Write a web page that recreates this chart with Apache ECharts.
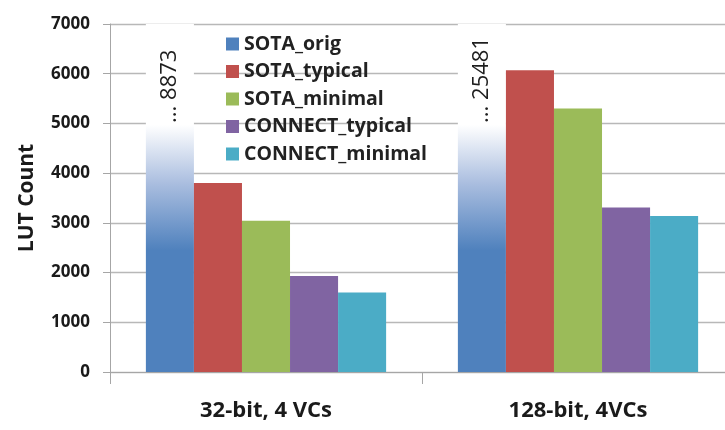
<!DOCTYPE html>
<html>
<head>
<meta charset="utf-8">
<script src="https://cdn.jsdelivr.net/npm/echarts@6/dist/echarts.min.js"></script>
<style>
  html, body { margin: 0; padding: 0; background: #fff; }
  #chart { width: 725px; height: 430px; }
</style>
</head>
<body>
<div id="chart"></div>
<script>
// LUT usage per router configuration
const categories = ['32-bit, 4 VCs', '128-bit, 4VCs'];
const seriesNames = ['SOTA_orig', 'SOTA_typical', 'SOTA_minimal', 'CONNECT_typical', 'CONNECT_minimal'];
const sotaOrig = [8873, 25481];
const sotaTypical = [3800, 6070];
const sotaMinimal = [3040, 5300];
const connectTypical = [1930, 3310];
const connectMinimal = [1600, 3140];
const yTicks = [0, 1000, 2000, 3000, 4000, 5000, 6000, 7000];

const colors = ['#4F81BD', '#C0504D', '#9BBB59', '#8064A2', '#4BACC6'];
const font = '"Open Sans", "Noto Sans", sans-serif';

// Off-scale bars fade out towards the top of the axis
const fadeFill = new echarts.graphic.LinearGradient(0, 0, 0, 1, [
  { offset: 0, color: '#ffffff' },
  { offset: 0.29, color: '#ffffff' },
  { offset: 0.46, color: '#a9bddf' },
  { offset: 0.65, color: '#4F81BD' },
  { offset: 1, color: '#4F81BD' }
]);

const chart = echarts.init(document.getElementById('chart'), null, { renderer: 'canvas' });

const valueSets = [sotaOrig, sotaTypical, sotaMinimal, connectTypical, connectMinimal];

const series = valueSets.map((vals, i) => {
  const s = {
    name: seriesNames[i],
    type: 'bar',
    barGap: 0,
    barCategoryGap: '23%',
    clip: true,
    itemStyle: { color: colors[i] },
    data: vals
  };
  if (i === 0) {
    s.itemStyle = { color: fadeFill };
    s.data = vals.map(v => ({
      value: v,
      label: {
        show: true,
        formatter: '... ' + v,
        position: ['50%', 99],
        rotate: 90,
        align: 'left',
        verticalAlign: 'middle',
        fontFamily: font,
        fontSize: 22,
        color: '#1e1e1e'
      }
    }));
  }
  return s;
});

chart.setOption({
  animation: false,
  color: colors,
  grid: { left: 110, width: 624, top: 24, bottom: 58, containLabel: false, outerBoundsMode: 'none' },
  legend: {
    orient: 'vertical',
    left: 226,
    top: 33,
    padding: 0,
    icon: 'rect',
    itemWidth: 13,
    itemHeight: 13,
    itemGap: 5.5,
    data: seriesNames.map((n, i) => ({ name: n, itemStyle: { color: colors[i] } })),
    textStyle: { fontFamily: font, fontSize: 19.5, fontWeight: 'bold', color: '#222', lineHeight: 22 }
  },
  xAxis: {
    type: 'category',
    data: categories,
    axisLine: { lineStyle: { color: '#a6a6a6', width: 1 } },
    axisTick: { show: true, length: 12, lineStyle: { color: '#a6a6a6' } },
    axisLabel: { margin: 28, fontFamily: font, fontSize: 22, fontWeight: 'bold', color: '#1a1a1a' }
  },
  yAxis: {
    type: 'value',
    min: yTicks[0],
    max: yTicks[yTicks.length - 1],
    interval: 1000,
    name: 'LUT Count',
    nameLocation: 'middle',
    nameGap: 72,
    nameTextStyle: { fontFamily: font, fontSize: 21, fontWeight: 'bold', color: '#1a1a1a' },
    axisLine: { show: true, lineStyle: { color: '#a6a6a6' } },
    axisTick: { show: true, length: 7, lineStyle: { color: '#a6a6a6' } },
    splitLine: { lineStyle: { color: '#b8b8b8', width: 1.3 } },
    axisLabel: {
      margin: 20,
      fontFamily: font,
      fontSize: 17,
      fontWeight: 'bold',
      color: '#1a1a1a',
      formatter: v => String(v)
    }
  },
  series: series
});
</script>
</body>
</html>
